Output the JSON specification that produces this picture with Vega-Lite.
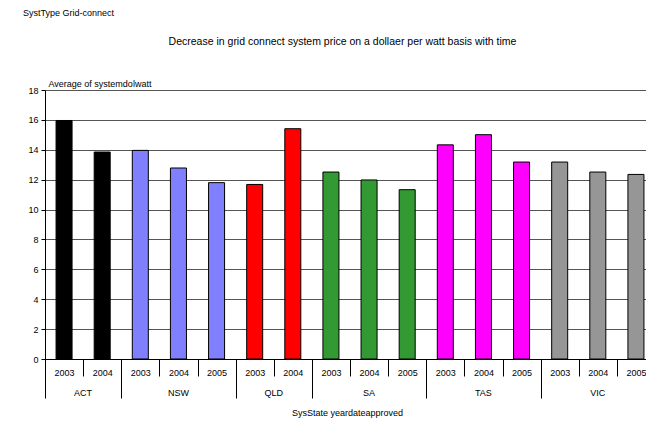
{
  "$schema": "https://vega.github.io/schema/vega-lite/v6.json",
  "width": 601,
  "height": 269,
  "autosize": {"type": "none"},
  "padding": {"left": 45, "top": 90, "right": 0, "bottom": 63},
  "background": "white",
  "config": {
    "font": "Liberation Sans",
    "view": {"stroke": null},
    "axis": {
      "labelFont": "Liberation Sans",
      "titleFont": "Liberation Sans",
      "labelColor": "black",
      "titleColor": "black",
      "labelFontSize": 9,
      "titleFontSize": 9,
      "titleFontWeight": "normal",
      "domainColor": "black",
      "tickColor": "black"
    }
  },
  "title": {
    "text": "SystType Grid-connect",
    "anchor": "start",
    "frame": "group",
    "fontSize": 9,
    "fontWeight": "normal",
    "font": "Liberation Sans",
    "color": "black",
    "dx": -22,
    "offset": 18
  },
  "data": {
    "values": [
      {"key": "ACT 2003", "state": "ACT", "year": "2003", "value": 15.96},
      {"key": "ACT 2004", "state": "ACT", "year": "2004", "value": 13.85},
      {"key": "NSW 2003", "state": "NSW", "year": "2003", "value": 13.96},
      {"key": "NSW 2004", "state": "NSW", "year": "2004", "value": 12.78},
      {"key": "NSW 2005", "state": "NSW", "year": "2005", "value": 11.80},
      {"key": "QLD 2003", "state": "QLD", "year": "2003", "value": 11.68},
      {"key": "QLD 2004", "state": "QLD", "year": "2004", "value": 15.41},
      {"key": "SA 2003", "state": "SA", "year": "2003", "value": 12.51},
      {"key": "SA 2004", "state": "SA", "year": "2004", "value": 11.98},
      {"key": "SA 2005", "state": "SA", "year": "2005", "value": 11.33},
      {"key": "TAS 2003", "state": "TAS", "year": "2003", "value": 14.33},
      {"key": "TAS 2004", "state": "TAS", "year": "2004", "value": 15.01},
      {"key": "TAS 2005", "state": "TAS", "year": "2005", "value": 13.18},
      {"key": "VIC 2003", "state": "VIC", "year": "2003", "value": 13.18},
      {"key": "VIC 2004", "state": "VIC", "year": "2004", "value": 12.51},
      {"key": "VIC 2005", "state": "VIC", "year": "2005", "value": 12.35}
    ]
  },
  "layer": [
    {
      "mark": {"type": "bar", "width": {"band": 0.42}, "stroke": "black", "strokeWidth": 1},
      "encoding": {
        "x": {
          "field": "key",
          "type": "nominal",
          "sort": null,
          "scale": {"range": [0, 610], "paddingInner": 0, "paddingOuter": 0},
          "axis": {
            "orient": "bottom",
            "labelExpr": "slice('' + datum.label, -4)",
            "labelAngle": 0,
            "tickBand": "extent",
            "tickSize": 17,
            "labelPadding": -7.5,
            "labelBaseline": "top",
            "grid": false,
            "title": "Decrease in grid connect system price on a dollaer per watt basis with time",
            "titleFontSize": 10.5,
            "titleX": 297,
            "titleY": -318,
            "titleAlign": "center",
            "titleBaseline": "middle"
          }
        },
        "y": {
          "field": "value",
          "type": "quantitative",
          "scale": {"domain": [0, 18], "nice": false},
          "axis": {
            "values": [0, 2, 4, 6, 8, 10, 12, 14, 16, 18],
            "title": "Average of systemdolwatt",
            "titleAngle": 0,
            "titleAlign": "left",
            "titleBaseline": "middle",
            "titleX": 3,
            "titleY": -7,
            "grid": true,
            "gridColor": "#555555",
            "gridOpacity": 1,
            "gridWidth": 1,
            "tickSize": 4,
            "labelPadding": 3
          }
        },
        "color": {
          "field": "state",
          "type": "nominal",
          "scale": {
            "domain": ["ACT", "NSW", "QLD", "SA", "TAS", "VIC"],
            "range": ["#000000", "#8080FF", "#FF0000", "#339933", "#FF00FF", "#969696"]
          },
          "legend": null
        }
      }
    },
    {
      "mark": {"type": "bar", "opacity": 0},
      "encoding": {
        "x": {
          "field": "key",
          "type": "nominal",
          "sort": null,
          "axis": {
            "orient": "bottom",
            "labelExpr": "indexof(['ACT 2003','NSW 2004','QLD 2003','SA 2004','TAS 2004','VIC 2004'], '' + datum.label) >= 0 ? slice('' + datum.label, 0, -5) : ''",
            "labelAngle": 0,
            "labelOffset": {"condition": {"test": "datum.value === 'ACT 2003' || datum.value === 'QLD 2003'", "value": 19}, "value": 0},
            "ticks": false,
            "tickSize": 0,
            "labelPadding": 29.5,
            "labelBaseline": "top",
            "domain": false,
            "grid": false,
            "labelOverlap": false,
            "title": "SysState  yeardateapproved",
            "titlePadding": 11,
            "titleX": 302
          }
        }
      }
    },
    {
      "mark": {"type": "bar", "opacity": 0},
      "encoding": {
        "x": {
          "field": "key",
          "type": "nominal",
          "sort": null,
          "axis": {
            "orient": "bottom",
            "labels": false,
            "tickBand": "extent",
            "tickSize": 39,
            "tickOpacity": {"condition": {"test": "datum.extra || !datum.value || indexof(['ACT 2004','NSW 2005','QLD 2004','SA 2005','TAS 2005','VIC 2005'], '' + datum.value) >= 0", "value": 1}, "value": 0},
            "domain": false,
            "grid": false,
            "title": null
          }
        }
      }
    }
  ],
  "resolve": {"axis": {"x": "independent"}}
}
